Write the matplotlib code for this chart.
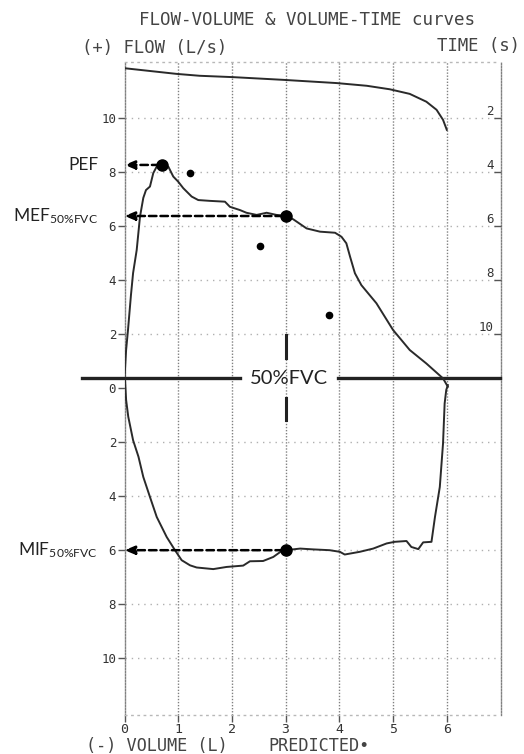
import matplotlib
matplotlib.use('Agg')
import matplotlib.pyplot as plt

# ---------------- data ----------------
exp_volume = [0.0, 0.03, 0.065, 0.12, 0.16, 0.227, 0.288, 0.35, 0.40, 0.474, 0.536, 0.60, 0.70,
              0.815, 0.908, 1.0, 1.094, 1.25, 1.373, 1.59, 1.87, 1.963, 2.149, 2.27, 2.46, 2.646,
              2.83, 3.0, 3.14, 3.39, 3.64, 3.92, 4.04, 4.13, 4.20, 4.29, 4.41, 4.69, 5.0, 5.31,
              5.62, 5.93, 6.02]
exp_flow = [0.37, 1.41, 2.15, 3.44, 4.26, 5.11, 6.34, 7.04, 7.33, 7.46, 7.96, 8.20, 8.26,
            8.20, 7.83, 7.64, 7.40, 7.09, 6.96, 6.93, 6.90, 6.71, 6.59, 6.49, 6.41, 6.49,
            6.41, 6.37, 6.25, 5.91, 5.79, 5.75, 5.60, 5.36, 4.86, 4.25, 3.81, 3.14, 2.15, 1.41,
            0.91, 0.36, 0.05]

insp_volume = [0.01, 0.03, 0.07, 0.16, 0.26, 0.35, 0.474, 0.60, 0.785, 0.94, 1.064, 1.22, 1.343,
               1.652, 1.90, 2.21, 2.335, 2.58, 2.77, 2.925, 3.0, 3.27, 3.51, 3.82, 4.01, 4.10,
               4.38, 4.63, 4.88, 5.03, 5.25, 5.34, 5.47, 5.56, 5.715, 5.78, 5.87, 5.93, 5.96,
               5.99, 6.02]
insp_flow = [0.30, -0.44, -1.06, -1.93, -2.54, -3.29, -4.03, -4.77, -5.51, -6.0, -6.37, -6.56, -6.64,
             -6.70, -6.62, -6.57, -6.41, -6.40, -6.25, -6.03, -6.0, -5.94, -5.97, -6.0, -6.06, -6.16,
             -6.06, -5.94, -5.75, -5.69, -5.66, -5.88, -5.96, -5.71, -5.69, -4.77, -3.66, -2.05, -0.57,
             -0.07, 0.11]

time_volume = [0.0, 0.60, 0.97, 1.40, 2.02, 2.95, 3.95, 4.51, 4.94, 5.31, 5.62, 5.81, 5.93, 6.0]
time_s = [0.16, 0.29, 0.37, 0.44, 0.49, 0.59, 0.71, 0.81, 0.94, 1.11, 1.40, 1.70, 2.07, 2.44]

pred_volume = [1.22, 2.52, 3.80]
pred_flow = [7.97, 5.26, 2.70]

meas_labels = ['PEF', r'MEF$_{\mathregular{50\%FVC}}$', r'MIF$_{\mathregular{50\%FVC}}$']
meas_volume = [0.70, 3.0, 3.0]
meas_flow = [8.26, 6.37, -6.0]

baseline_flow = 0.37          # level of the drawn zero-flow line
fvc50_volume = 3.0
vol_ticks = [0, 1, 2, 3, 4, 5, 6]
flow_ticks = [-10, -8, -6, -4, -2, 0, 2, 4, 6, 8, 10]
time_ticks = [2, 4, 6, 8, 10]

# ---------------- figure ----------------
W, H = 524, 754
plt.rcParams['mathtext.default'] = 'regular'
fig = plt.figure(figsize=(W / 100, H / 100), dpi=100)
ax = fig.add_axes([124.5 / W, 1 - 715 / H, 376 / W, 653 / H])
ymin, ymax = -12.1, 12.07
ax.set_xlim(0, 7)
ax.set_ylim(ymin, ymax)

mono = 'DejaVu Sans Mono'
txtc = '#333333'
gridc = '#808080'

# grid
for v in range(1, 7):
    ax.axvline(v, color=gridc, lw=1, ls=(0, (1, 1.2)), zorder=1)
for f in flow_ticks:
    if f != 0:
        ax.axhline(f, color='#b0b0b0', lw=1, ls=(0, (1, 3.5)), zorder=1)

for s in ['left', 'right']:
    ax.spines[s].set_linestyle((0, (1, 1.2)))
    ax.spines[s].set_color(gridc)
    ax.spines[s].set_linewidth(1)
for s in ['top', 'bottom']:
    ax.spines[s].set_linestyle((0, (1, 3.5)))
    ax.spines[s].set_color('#b8b8b8')
    ax.spines[s].set_linewidth(1)

ax.set_xticks(vol_ticks)
ax.set_xticklabels([str(v) for v in vol_ticks], family=mono, fontsize=9.5, color=txtc)
ax.set_yticks(flow_ticks)
ax.set_yticklabels([str(abs(f)) for f in flow_ticks], family=mono, fontsize=9, color=txtc)
ax.tick_params(axis='x', direction='out', length=5, width=1, color='#555555', pad=1)
ax.tick_params(axis='y', direction='out', length=5, width=1, color='#555555', pad=1)

# time axis (volume-time curve, time increases downward)
ax2 = ax.twinx()
ax2.set_ylim(12 - ymin, 12 - ymax)
ax2.set_yticks(time_ticks)
ax2.set_yticklabels([str(t) for t in time_ticks], family=mono, fontsize=9, color=txtc)
ax2.tick_params(axis='y', direction='in', length=5, width=1, color='#555555', pad=-5)
for lab in ax2.get_yticklabels():
    lab.set_horizontalalignment('right')
    lab.set_verticalalignment('bottom')
for s in ax2.spines.values():
    s.set_visible(False)

# curves
curvec = '#2a2a2a'
ax.plot(exp_volume, exp_flow, color=curvec, lw=1.4, zorder=4)
ax.plot(insp_volume, insp_flow, color=curvec, lw=1.4, zorder=4)
ax2.plot(time_volume, time_s, color=curvec, lw=1.4, zorder=4)

# predicted dots
ax.plot(pred_volume, pred_flow, 'o', color='black', ms=4.5, zorder=5)

# baseline with 50%FVC label
ax.plot([-0.79, 2.15], [baseline_flow, baseline_flow], color='#222222', lw=2.4, clip_on=False, zorder=3)
ax.plot([3.97, 7.0], [baseline_flow, baseline_flow], color='#222222', lw=2.4, clip_on=False, zorder=3)
ax.text(3.06, baseline_flow, '50%FVC', family='Lato', fontsize=14.5, color='#222222',
        ha='center', va='center', zorder=6)
ax.plot([fvc50_volume, fvc50_volume], [baseline_flow + 0.74, baseline_flow + 1.59],
        color='#222222', lw=2.2, zorder=3)
ax.plot([fvc50_volume, fvc50_volume], [baseline_flow - 0.74, baseline_flow - 1.56],
        color='#222222', lw=2.2, zorder=3)

# measured points with dashed arrows and labels
for lab, v, f in zip(meas_labels, meas_volume, meas_flow):
    ax.plot([v], [f], 'o', color='black', ms=8, zorder=6)
    ax.annotate('', xy=(0.0, f), xytext=(v - 0.05, f),
                arrowprops=dict(arrowstyle='-|>,head_length=0.6,head_width=0.25',
                                linestyle=(0, (3, 1.6)), lw=1.8, color='black',
                                shrinkA=0, shrinkB=0), zorder=5, annotation_clip=False)
    ax.text(-0.49, f, lab, family='Lato', fontsize=12.5, color='#222222',
            ha='right', va='center', clip_on=False)

# header / footer texts
fig.text(307 / W, 1 - 20 / H, 'FLOW-VOLUME & VOLUME-TIME curves', family=mono,
         fontsize=12.6, color='#444444', ha='center', va='center')
fig.text(82 / W, 1 - 48 / H, '(+) FLOW (L/s)', family=mono, fontsize=12.4,
         color='#444444', ha='left', va='center')
fig.text(520 / W, 1 - 46 / H, 'TIME (s)', family=mono, fontsize=12.4,
         color='#444444', ha='right', va='center')
fig.text(86 / W, 1 - 746 / H, '(-) VOLUME (L)', family=mono, fontsize=12.2,
         color='#444444', ha='left', va='center')
fig.text(268 / W, 1 - 746 / H, 'PREDICTED\u2022', family=mono, fontsize=12.2,
         color='#444444', ha='left', va='center')

fig.savefig('out.png', dpi=100, facecolor='white')
